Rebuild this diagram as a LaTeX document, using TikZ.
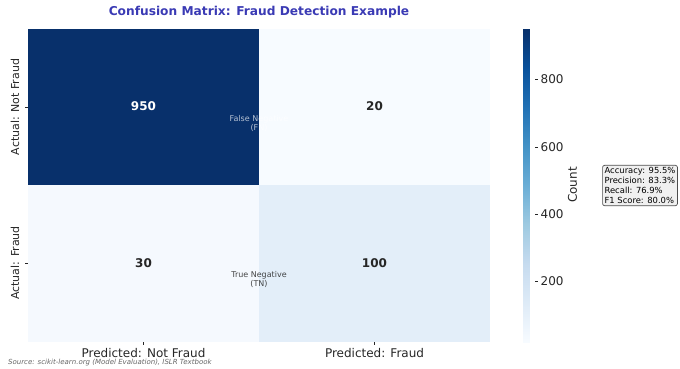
\documentclass[tikz,border=0pt]{standalone}
\usepackage{fontspec}
\setmainfont{DejaVu Sans}
\definecolor{bl0}{HTML}{F7FBFF}
\definecolor{bl1}{HTML}{DEEBF7}
\definecolor{bl2}{HTML}{C6DBEF}
\definecolor{bl3}{HTML}{9ECAE1}
\definecolor{bl4}{HTML}{6BAED6}
\definecolor{bl5}{HTML}{4292C6}
\definecolor{bl6}{HTML}{2171B5}
\definecolor{bl7}{HTML}{08519C}
\definecolor{bl8}{HTML}{08306B}
\definecolor{cellTN}{HTML}{08306B}
\definecolor{cellFP}{HTML}{F7FBFF}
\definecolor{cellFN}{HTML}{F5F9FE}
\definecolor{cellTP}{HTML}{E3EEF9}
\definecolor{titleblue}{HTML}{3A3AB4}
\definecolor{ink}{HTML}{262626}
% Blues colour map; the path is mapped onto the 25bp--75bp band of the shading
\pgfdeclareverticalshading{blues}{20bp}{%
  color(0bp)=(bl0); color(25bp)=(bl0); color(31.25bp)=(bl1); color(37.5bp)=(bl2);
  color(43.75bp)=(bl3); color(50bp)=(bl4); color(56.25bp)=(bl5);
  color(62.5bp)=(bl6); color(68.75bp)=(bl7); color(75bp)=(bl8); color(100bp)=(bl8)}
\tikzset{
  cellnum/.style={font=\fontsize{12}{14}\selectfont\bfseries},
  axislabel/.style={font=\fontsize{12}{14}\selectfont, text=ink},
  ylabel/.style={font=\fontsize{11}{13}\selectfont, text=ink, rotate=90},
  ticklabel/.style={font=\fontsize{12}{14}\selectfont, text=ink, anchor=west, inner sep=0pt},
  tinynote/.style={font=\fontsize{8}{9}\selectfont, align=center, inner sep=0pt},
  tickmark/.style={draw=ink, line width=0.6pt},
}
\begin{document}
\begin{tikzpicture}[x=1pt,y=-1pt]
\useasboundingbox (0,0) rectangle (680,368);

% title
\node[font=\fontsize{12.2}{14}\selectfont\bfseries, text=titleblue] (title) at (259,12) {Confusion Matrix: Fraud Detection Example};

% heatmap cells
\fill[cellTN] (28,29) rectangle (259,185);
\fill[cellFP] (259,29) rectangle (490,185);
\fill[cellFN] (28,185) rectangle (259,342);
\fill[cellTP] (259,185) rectangle (490,342);

\node[cellnum, text=white] (n950) at (143.5,106.5) {950};
\node[cellnum, text=ink] (n20) at (374.5,106.5) {20};
\node[cellnum, text=ink] (n30) at (143.5,263.5) {30};
\node[cellnum, text=ink] (n100) at (374.5,263.5) {100};

\node[tinynote, text=white, text opacity=0.7] (fnnote) at (259,123) {False Negative\\(FN)};
\node[tinynote, text=ink, text opacity=0.85] (tnnote) at (259,279) {True Negative\\(TN)};

% axis ticks and labels
\draw[tickmark] (25,107) -- (28,107);
\draw[tickmark] (25,263) -- (28,263);
\draw[tickmark] (143.5,342) -- (143.5,345);
\draw[tickmark] (374.5,342) -- (374.5,345);
\node[ylabel] (ynf) at (15,107) {Actual: Not Fraud};
\node[ylabel] (yf) at (15,263) {Actual: Fraud};
\node[axislabel] (xnf) at (143.5,353) {Predicted: Not Fraud};
\node[axislabel] (xf) at (374.5,353) {Predicted: Fraud};

% colorbar
\shade[shading=blues] (518,29) rectangle (535,342);
\foreach \v/\y in {800/79.5, 600/146.8, 400/214.1, 200/281.4}{
  \draw[tickmark] (535,\y) -- (538,\y);
  \node[ticklabel] at (540.5,\y) {\v};
}
\node[axislabel, rotate=90] (cbl) at (572.5,185) {Count};

% metrics box
\node[draw=black!70, fill=black!6, rounded corners=2pt, line width=0.7pt,
      inner sep=2pt, align=left, font=\fontsize{8.4}{10}\selectfont] (stats) at (640,185.5)
  {Accuracy: 95.5\%\\Precision: 83.3\%\\Recall: 76.9\%\\F1 Score: 80.0\%};

% source line
\node[anchor=west, inner sep=0pt, font=\fontsize{7}{8}\selectfont\itshape, text=black!60] (src) at (8,363)
  {Source: scikit-learn.org (Model Evaluation), ISLR Textbook};
\end{tikzpicture}
\end{document}
